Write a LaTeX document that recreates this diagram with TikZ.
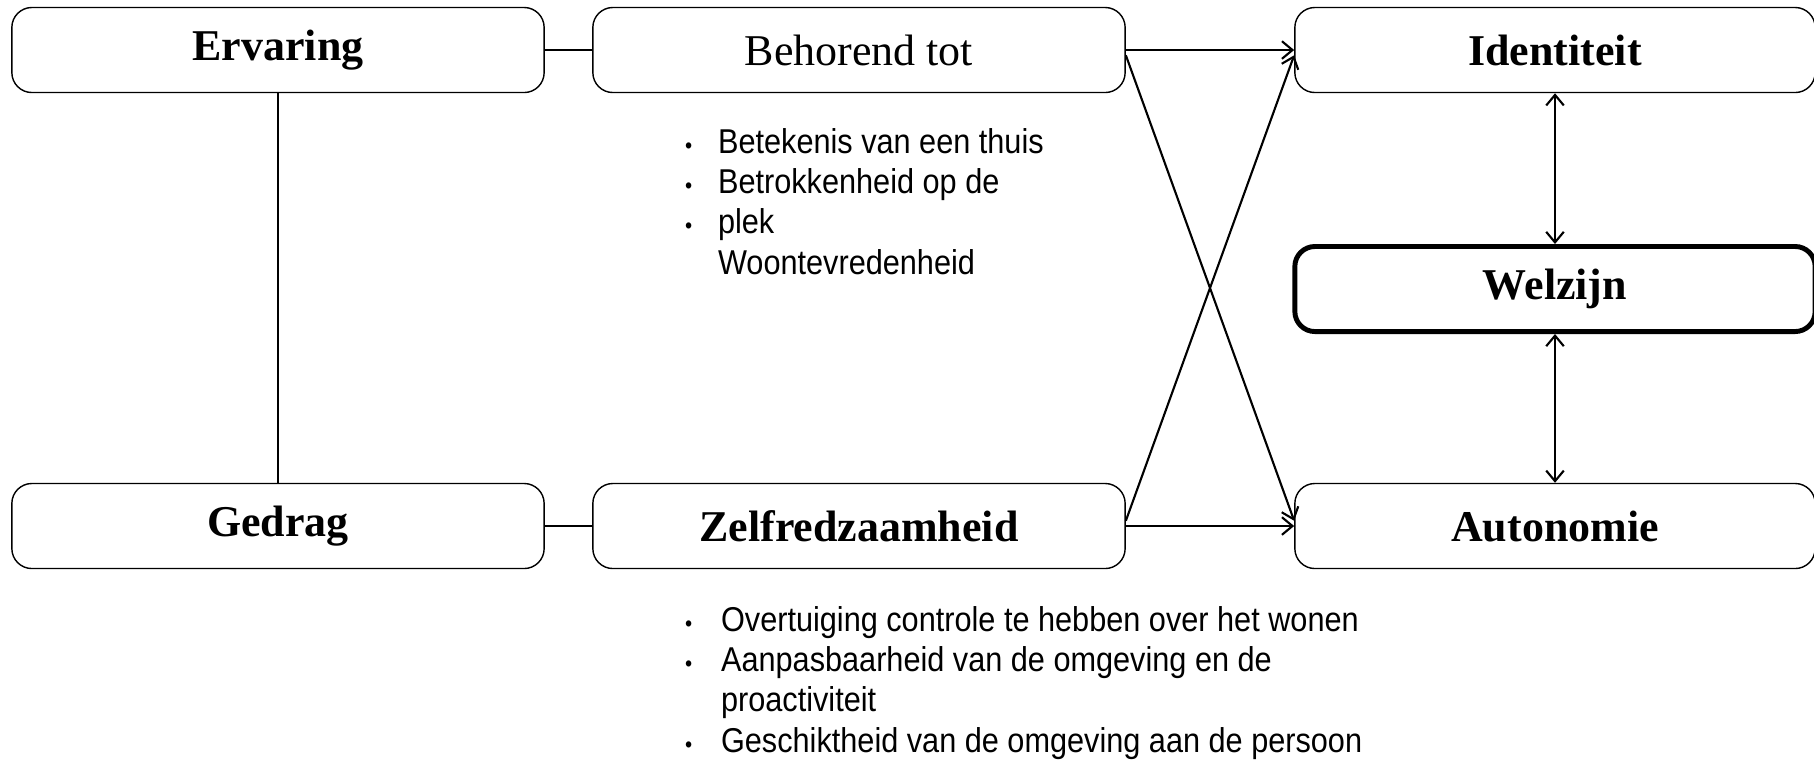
\documentclass[tikz,border=0pt]{standalone}
\usepackage{fontspec}
\setmainfont{Liberation Serif}
\newfontfamily\listfont[FakeStretch=0.89]{Liberation Sans}
\usetikzlibrary{arrows.meta}
\tikzset{
  box/.style={draw, line width=0.4pt, rounded corners=0.2cm,
    minimum width=5.32cm, minimum height=0.85cm,
    font=\fontsize{12.5}{15}\selectfont\bfseries},
  rbox/.style={box, minimum width=5.2cm},
  itemlist/.style={inner sep=0pt, anchor=base west,
    font=\listfont\fontsize{9.8}{11.5}\selectfont},
  tip/.style={-{Straight Barb[length=3pt,width=5pt]}},
  twotip/.style={{Straight Barb[length=3pt,width=5pt]}-{Straight Barb[length=3pt,width=5pt]}}
}
\newcommand{\dotitem}{{\fontsize{6.5}{6.5}\selectfont\textbullet}}
\begin{document}
\begin{tikzpicture}[x=0.01cm,y=-0.01cm,line width=0.6pt]
  \useasboundingbox (0,0) rectangle (1814,759);
  \draw
    (278,50) node[box] (ervaring) {Ervaring}
    (859,50) node[box,font=\fontsize{12.5}{15}\selectfont] (behorend) {Behorend tot}
    (1555,50) node[rbox] (identiteit) {Identiteit}
    (1555,289) node[rbox,line width=1.4pt] (welzijn) {Welzijn}
    (278,526) node[box] (gedrag) {Gedrag}
    (859,526) node[box] (zelfred) {Zelfredzaamheid}
    (1555,526) node[rbox] (autonomie) {Autonomie};
  \node[itemlist] (thuislijst) at (684,153) {%
    \begin{tabular}[t]{@{}p{0.33cm}@{}l@{}}
      \dotitem & Betekenis van een thuis\\
      \dotitem & Betrokkenheid op de\\
      \dotitem & plek\\
               & Woontevredenheid
    \end{tabular}};
  \node[itemlist] (controlelijst) at (684,631) {%
    \begin{tabular}[t]{@{}p{0.36cm}@{}l@{}}
      \dotitem & Overtuiging controle te hebben over het wonen\\
      \dotitem & Aanpasbaarheid van de omgeving en de\\
               & proactiviteit\\
      \dotitem & Geschiktheid van de omgeving aan de persoon
    \end{tabular}};
  \begin{scope}[-]
    \draw (ervaring) to (behorend);
    \draw (ervaring) to (gedrag);
    \draw (gedrag) to (zelfred);
  \end{scope}
  \begin{scope}[tip]
    \draw (behorend) to (identiteit);
    \draw ([yshift=-1.5pt]behorend.east) to ([yshift=1.5pt]autonomie.west);
    \draw ([yshift=1.5pt]zelfred.east) to ([yshift=-1.5pt]identiteit.west);
    \draw (zelfred) to (autonomie);
  \end{scope}
  \begin{scope}[twotip]
    \draw (identiteit) to (welzijn);
    \draw (welzijn) to (autonomie);
  \end{scope}
\end{tikzpicture}
\end{document}
